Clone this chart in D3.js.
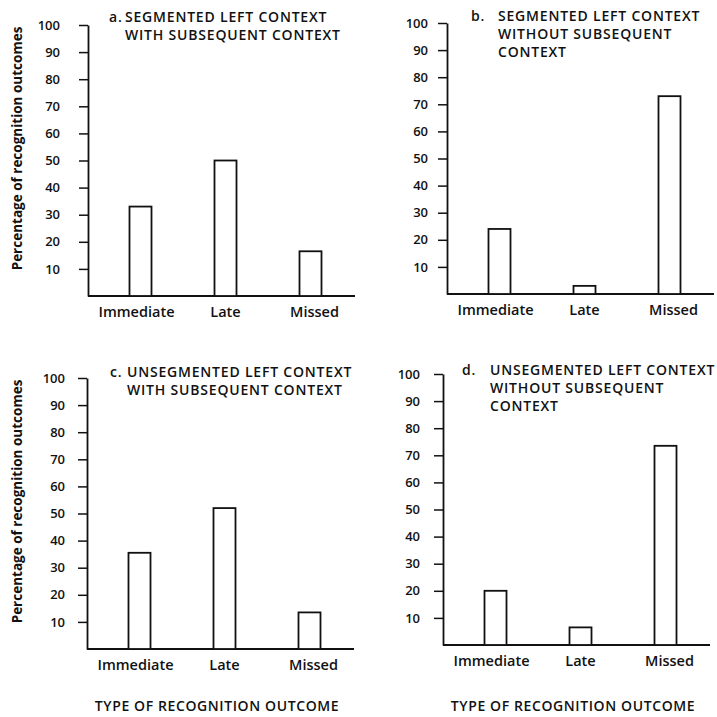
<html>
<head>
<script src="https://cdn.jsdelivr.net/npm/d3@7"></script>
<style>
  body { margin: 0; background: #fff; }
  text { font-family: "Open Sans", "Noto Sans", sans-serif; fill: #111; }
</style>
</head>
<body>
<script>
// data
var categories = ["Immediate", "Late", "Missed"];
var valuesA = [33, 50, 16.5];
var valuesB = [24, 3, 73];
var valuesC = [35.5, 52, 13.5];
var valuesD = [20, 6.5, 73.5];
var yTicks = [10, 20, 30, 40, 50, 60, 70, 80, 90, 100];
var titleA = ["a.", "SEGMENTED LEFT CONTEXT", "WITH SUBSEQUENT CONTEXT"];
var titleB = ["b.", "SEGMENTED LEFT CONTEXT", "WITHOUT SUBSEQUENT", "CONTEXT"];
var titleC = ["c.", "UNSEGMENTED LEFT CONTEXT", "WITH SUBSEQUENT CONTEXT"];
var titleD = ["d.", "UNSEGMENTED LEFT CONTEXT", "WITHOUT SUBSEQUENT", "CONTEXT"];
var yTitle = "Percentage of recognition outcomes";
var xTitle = "TYPE OF RECOGNITION OUTCOME";

var W = 717, H = 717;
var h = 271;      // height of 0..100
var barW = 22;

// panel layout: axis x, top (value 100) y, tick padding, title x, title indent, title baseline
var panels = [
  { values: valuesA, title: titleA, ax: 88,  top: 25,  pad: 19, tx: 109, ti: 16, ty: 22,  yLab: true,  xLab: false },
  { values: valuesB, title: titleB, ax: 447, top: 23,  pad: 10, tx: 471, ti: 27, ty: 21,  yLab: false, xLab: false },
  { values: valuesC, title: titleC, ax: 87,  top: 378, pad: 13, tx: 110, ti: 17, ty: 377, yLab: true,  xLab: true },
  { values: valuesD, title: titleD, ax: 443, top: 374, pad: 14, tx: 462, ti: 28, ty: 375, yLab: false, xLab: true }
];
// small shift of the category labels relative to the bar centres
var labelShift = [-4, 0, 4];

var svg = d3.select("body").append("svg").attr("width", W).attr("height", H);

panels.forEach(function(p) {
  var g = svg.append("g");
  var yScale = d3.scaleLinear().domain([0, 100]).range([p.top + h, p.top]);
  var xScale = d3.scalePoint().domain(categories).range([p.ax + 10, p.ax + 265]).padding(0.5);

  // y axis
  var yAxis = d3.axisLeft(yScale).tickValues(yTicks).tickSize(9).tickSizeOuter(0).tickPadding(p.pad);
  var ya = g.append("g").attr("transform", "translate(" + p.ax + ",0)").call(yAxis);
  ya.select(".domain").attr("stroke", "#111").attr("stroke-width", 1.8);
  ya.selectAll(".tick line").attr("stroke", "#111").attr("stroke-width", 1.5);
  ya.selectAll(".tick text").style("font-size", "13px").style("font-weight", 600)
    .style("font-family", "'Open Sans', sans-serif").attr("fill", "#111");

  // baseline
  g.append("line")
    .attr("x1", p.ax).attr("x2", p.ax + 267)
    .attr("y1", yScale(0)).attr("y2", yScale(0))
    .attr("stroke", "#111").attr("stroke-width", 2);

  // bars
  g.selectAll("rect.bar").data(p.values).enter().append("rect")
    .attr("class", "bar")
    .attr("x", function(d, i) { return xScale(categories[i]) - barW / 2; })
    .attr("y", function(d) { return yScale(d); })
    .attr("width", barW)
    .attr("height", function(d) { return yScale(0) - yScale(d); })
    .attr("fill", "#fff").attr("stroke", "#111").attr("stroke-width", 1.8);

  // category labels
  g.selectAll("text.cat").data(categories).enter().append("text")
    .attr("class", "cat")
    .attr("x", function(d, i) { return xScale(d) + labelShift[i]; })
    .attr("y", yScale(0) + 21)
    .attr("text-anchor", "middle")
    .style("font-size", "14.5px").style("font-weight", 600)
    .text(function(d) { return d; });

  // panel title
  var t = g.append("text").style("font-size", "14px").style("font-weight", 600)
    .style("letter-spacing", "0.8px");
  t.append("tspan").attr("x", p.tx).attr("y", p.ty).text(p.title[0]);
  t.append("tspan").attr("x", p.tx + p.ti).attr("y", p.ty).text(p.title[1]);
  p.title.slice(2).forEach(function(line, i) {
    t.append("tspan").attr("x", p.tx + p.ti).attr("y", p.ty + 18 * (i + 1)).text(line);
  });

  if (p.yLab) {
    g.append("text")
      .attr("transform", "translate(22," + (p.top + h / 2 - 12) + ") rotate(-90)")
      .attr("text-anchor", "middle")
      .style("font-size", "13.5px").style("font-weight", 700)
      .text(yTitle);
  }
  if (p.xLab) {
    g.append("text")
      .attr("x", p.ax + 130).attr("y", 711)
      .attr("text-anchor", "middle")
      .style("font-size", "14px").style("font-weight", 600)
      .style("letter-spacing", "0.6px")
      .text(xTitle);
  }
});
</script>
</body>
</html>
